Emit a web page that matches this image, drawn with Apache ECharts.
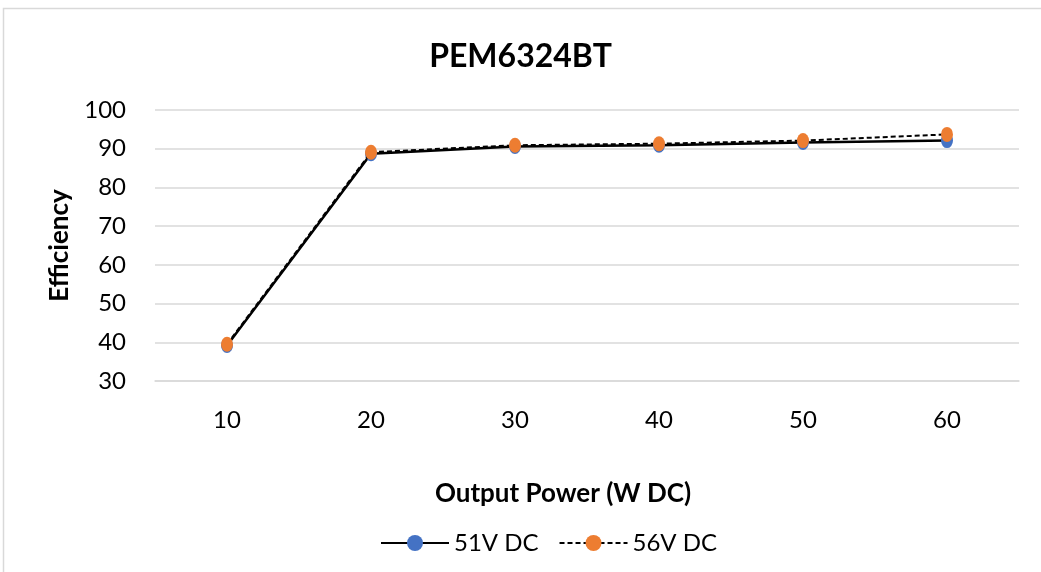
<!DOCTYPE html>
<html><head><meta charset="utf-8">
<script src="https://cdn.jsdelivr.net/npm/echarts@6/dist/echarts.min.js"></script>
<style>html,body{margin:0;padding:0;background:#fff}#c{width:1041px;height:572px}</style>
</head><body><div id="c"></div>
<script>
const categories = ['10','20','30','40','50','60'];
const s51 = [39.2, 88.7, 90.6, 90.9, 91.6, 92.1];
const s56 = [39.5, 89.1, 90.9, 91.3, 92.1, 93.7];
const seriesNames = ['51V DC','56V DC'];
const FONT = 'Lato, "Open Sans", sans-serif';
const chart = echarts.init(document.getElementById('c'));
chart.setOption({
  backgroundColor:'#fff',
  animation:false,
  graphic:[{type:'rect',shape:{x:3.5,y:8.5,width:1100,height:600},style:{fill:'none',stroke:'#d9d9d9',lineWidth:1.5},silent:true}],
  title:{text:'PEM6324BT',left:'center',top:36,textStyle:{fontFamily:FONT,fontSize:32,fontWeight:'bold',color:'#000'}},
  grid:{left:155,right:22,top:110,bottom:191,containLabel:false},
  legend:{bottom:12,left:375,itemWidth:68,itemHeight:20,itemGap:20,
    textStyle:{fontFamily:FONT,fontSize:24,color:'#000'},data:seriesNames},
  xAxis:{type:'category',data:categories,boundaryGap:true,
    name:'Output Power (W DC)',nameLocation:'middle',nameGap:100,
    nameTextStyle:{fontFamily:FONT,fontSize:26,fontWeight:'bold',color:'#000',padding:[0,48,0,0]},
    axisLine:{show:true,lineStyle:{color:'#d9d9d9',width:1.5}},axisTick:{show:false},
    axisLabel:{fontFamily:FONT,fontSize:24,color:'#000',margin:27}},
  yAxis:{type:'value',min:30,max:100,interval:10,
    name:'Efficiency',nameLocation:'middle',nameGap:82,nameRotate:90,
    nameTextStyle:{fontFamily:FONT,fontSize:26,fontWeight:'bold',color:'#000'},
    axisLine:{show:false},axisTick:{show:false},
    splitLine:{lineStyle:{color:'#d9d9d9',width:1.5}},
    axisLabel:{fontFamily:FONT,fontSize:24,color:'#000',margin:29}},
  series:[
    {name:seriesNames[0],type:'line',data:s51,symbol:'circle',symbolSize:[12,15],
     itemStyle:{color:'#4472c4'},lineStyle:{color:'#000',width:2.5,type:'solid'},z:2},
    {name:seriesNames[1],type:'line',data:s56,symbol:'circle',symbolSize:[12,15],
     itemStyle:{color:'#ed7d31'},lineStyle:{color:'#000',width:2,type:[5,3]},z:3}
  ]
});
</script></body></html>
